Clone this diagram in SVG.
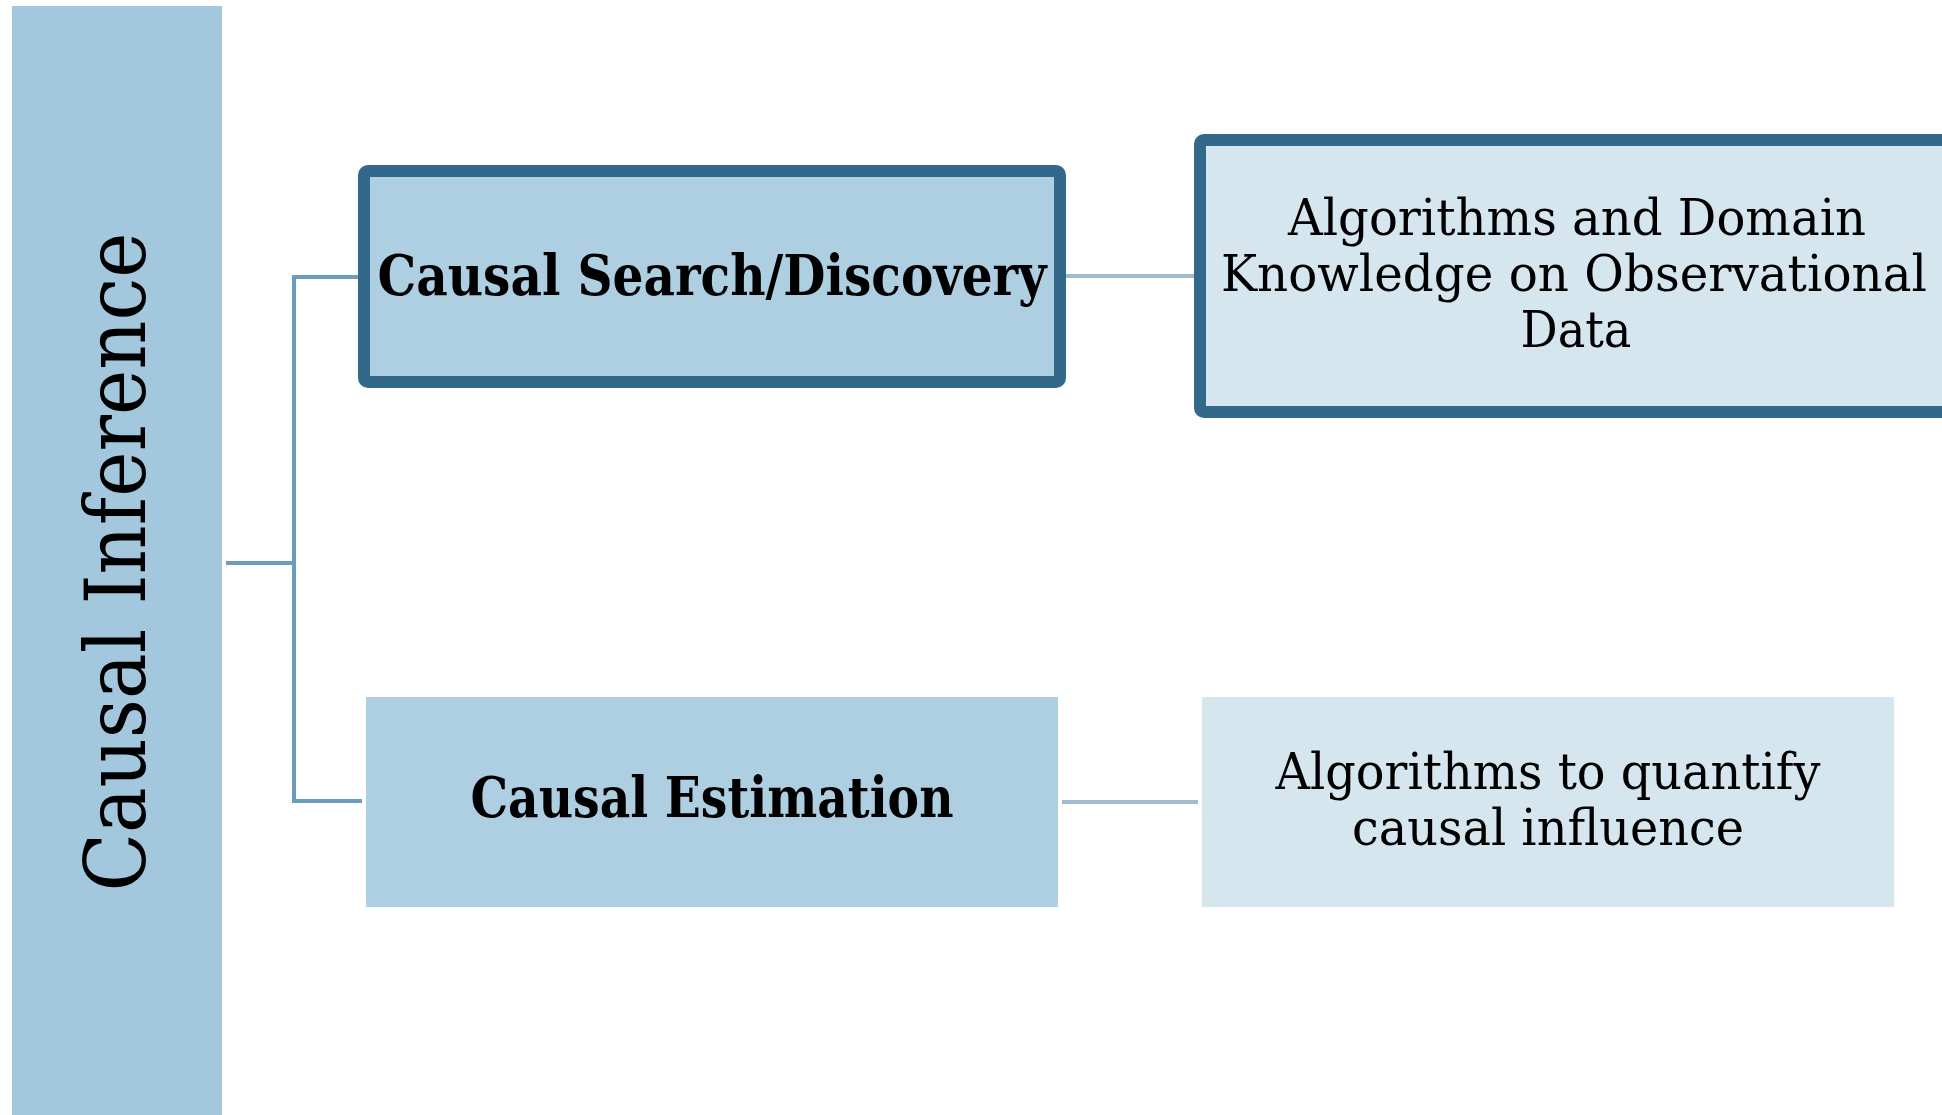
<svg xmlns="http://www.w3.org/2000/svg" width="1942" height="1115" viewBox="0 0 1942 1115">
  <style>
    .bar { fill: #a3c7dc; }
    .mid { fill: #aecee1; }
    .leaf { fill: #d6e6ef; }
    .frame { stroke: #32688a; stroke-width: 12; }
    .trunk { fill: none; stroke: #6b9dc0; stroke-width: 4; }
    .twig { fill: none; stroke: #a0bad2; stroke-width: 4; }
    text { font-family: "DejaVu Serif", "Liberation Serif", serif; fill: #000; text-anchor: middle; }
    .bold { font-weight: bold; font-size: 56px; }
    .plain { font-size: 50px; }
    .title { font-size: 84px; }
  </style>

  <!-- connectors -->
  <g id="connectors">
    <polyline class="trunk" points="226,563 294,563"/>
    <polyline class="trunk" points="362,277 294,277 294,801 362,801"/>
    <line class="twig" x1="1066" y1="276" x2="1194" y2="276"/>
    <line class="twig" x1="1062" y1="802" x2="1198" y2="802"/>
  </g>

  <!-- root -->
  <g id="causal-inference">
    <rect class="bar" x="12" y="6" width="210" height="1109"/>
    <text class="title" transform="translate(145,562) rotate(-90)" x="0" y="0" textLength="659" lengthAdjust="spacingAndGlyphs">Causal Inference</text>
  </g>

  <!-- branch: discovery -->
  <g id="causal-search">
    <rect class="mid frame" x="364" y="171" width="696" height="211" rx="4"/>
    <text class="bold" x="712" y="295" textLength="669" lengthAdjust="spacingAndGlyphs">Causal Search/Discovery</text>
  </g>

  <g id="discovery-detail">
    <rect class="leaf frame" x="1200" y="140" width="750" height="272" rx="4"/>
    <text class="plain" x="1577" y="235" textLength="578" lengthAdjust="spacingAndGlyphs">Algorithms and Domain</text>
    <text class="plain" x="1574" y="291" textLength="706" lengthAdjust="spacingAndGlyphs">Knowledge on Observational</text>
    <text class="plain" x="1576" y="347" textLength="111" lengthAdjust="spacingAndGlyphs">Data</text>
  </g>

  <!-- branch: estimation -->
  <g id="causal-estimation">
    <rect class="mid" x="366" y="697" width="692" height="210"/>
    <text class="bold" x="712" y="817" textLength="483" lengthAdjust="spacingAndGlyphs">Causal Estimation</text>
  </g>

  <g id="estimation-detail">
    <rect class="leaf" x="1202" y="697" width="692" height="210"/>
    <text class="plain" x="1548" y="789" textLength="545" lengthAdjust="spacingAndGlyphs">Algorithms to quantify</text>
    <text class="plain" x="1548" y="845" textLength="392" lengthAdjust="spacingAndGlyphs">causal influence</text>
  </g>
</svg>
